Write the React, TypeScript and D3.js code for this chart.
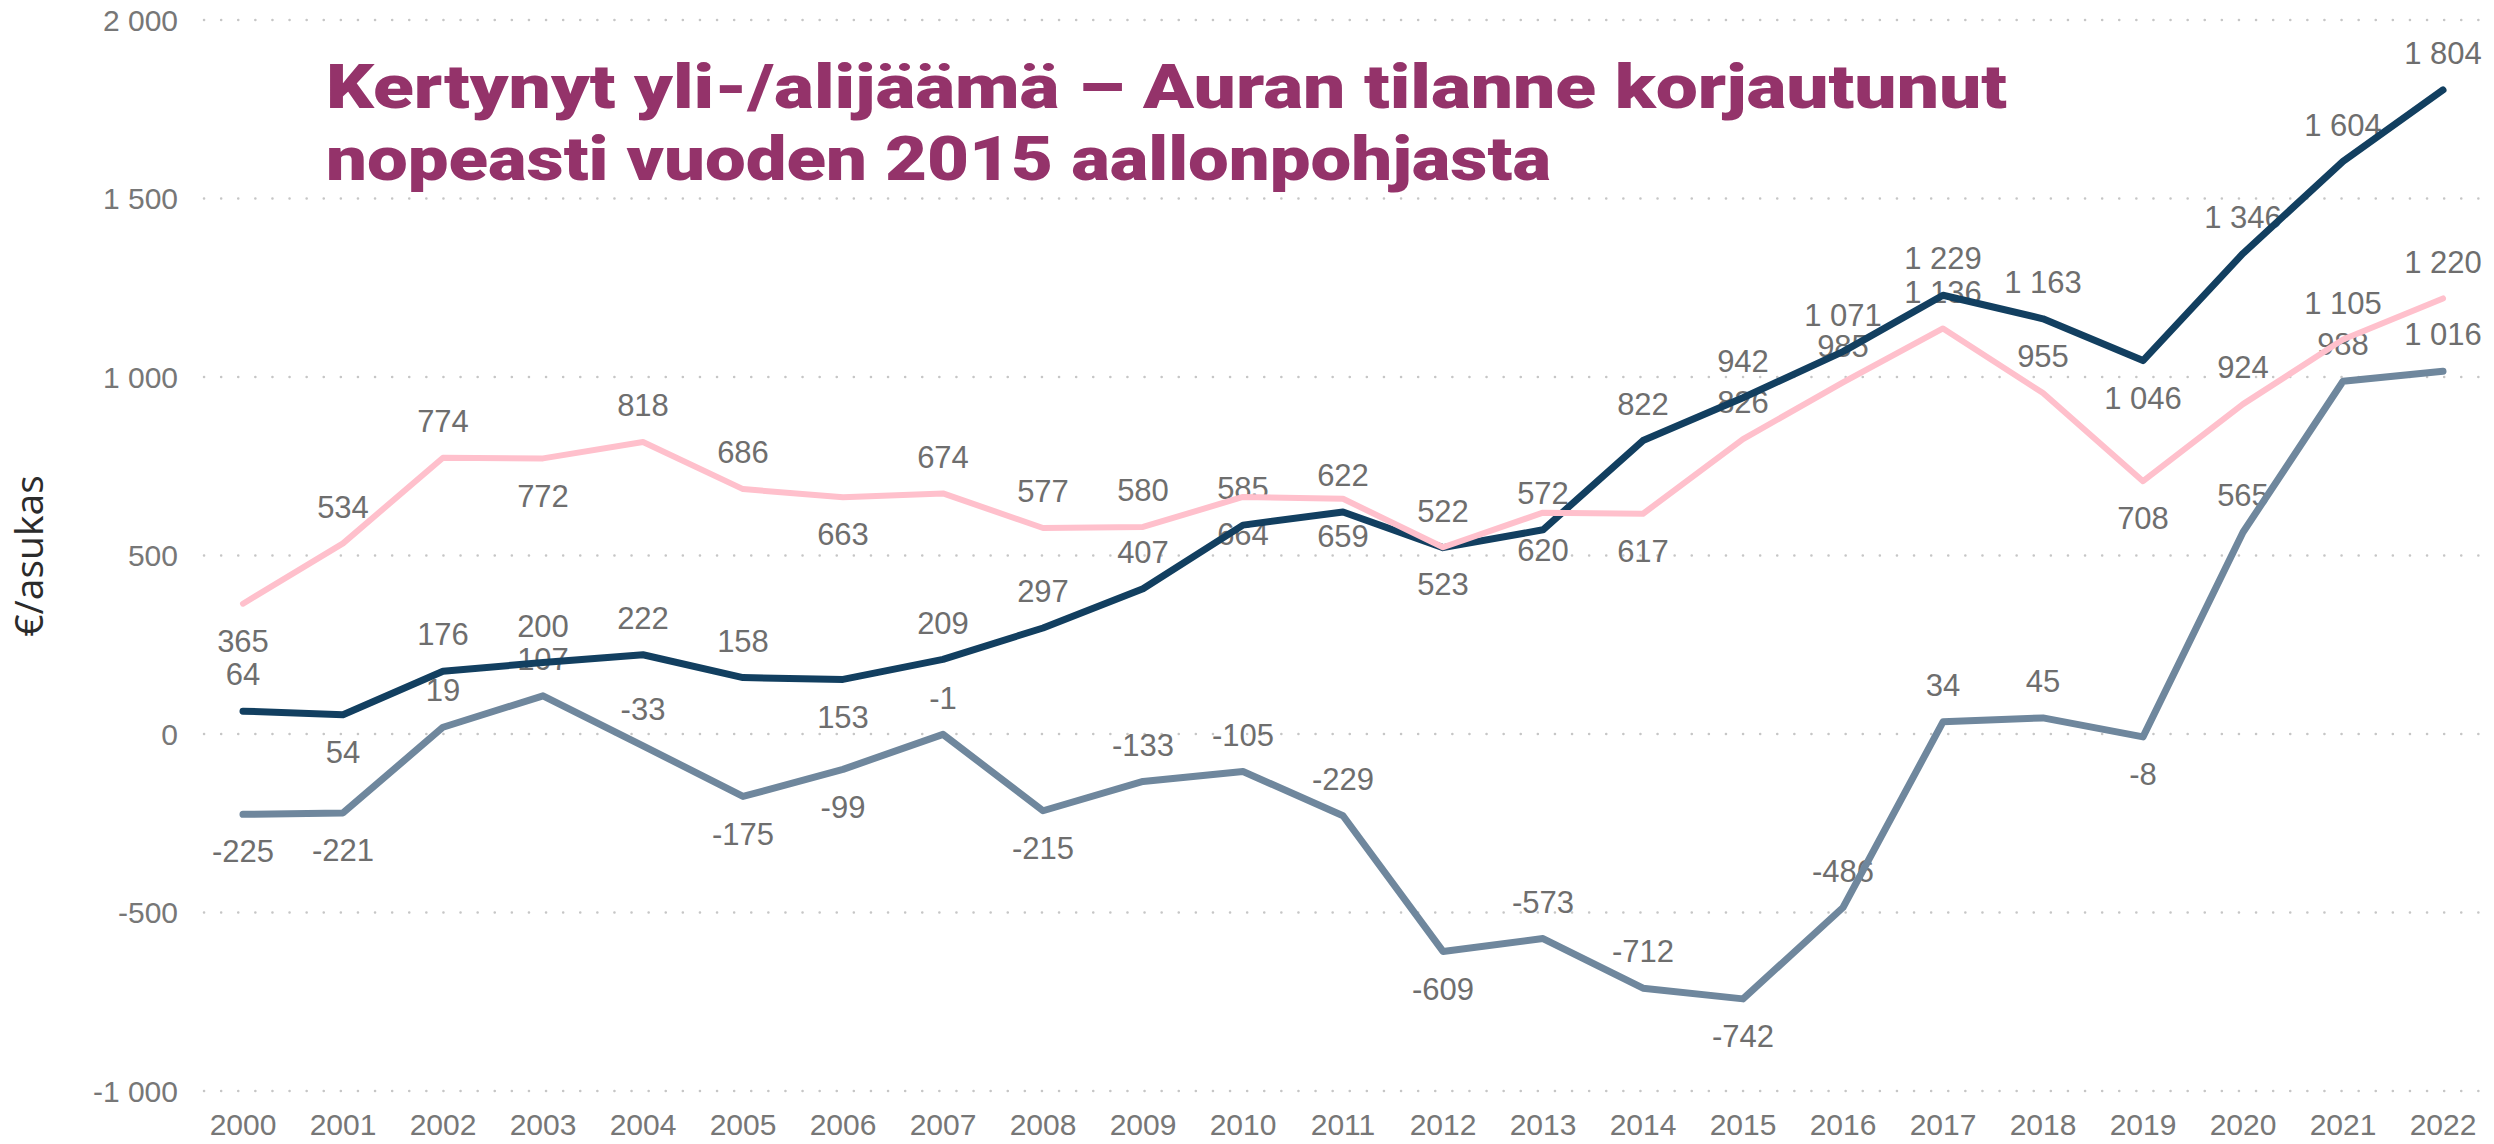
import { useEffect, useRef } from 'react';
import * as d3 from 'd3';

const years = [
  2000, 2001, 2002, 2003, 2004, 2005, 2006, 2007, 2008, 2009, 2010, 2011,
  2012, 2013, 2014, 2015, 2016, 2017, 2018, 2019, 2020, 2021, 2022,
];

// €/asukas
const vertailuA = [
  64, 54, 176, 200, 222, 158, 153, 209, 297, 407, 585, 622,
  522, 572, 822, 942, 1071, 1229, 1163, 1046, 1346, 1604, 1804,
];
const vertailuB = [
  365, 534, 774, 772, 818, 686, 663, 674, 577, 580, 664, 659,
  523, 620, 617, 826, 985, 1136, 955, 708, 924, 1105, 1220,
];
const aura = [
  -225, -221, 19, 107, -33, -175, -99, -1, -215, -133, -105, -229,
  -609, -573, -712, -742, -486, 34, 45, -8, 565, 988, 1016,
];

// label side: a = above, b = below
const vertailuASide = 'abaaaabaaaaaaaaaaaabaaa'.split('');
const vertailuBSide = 'baabaabaaabbbbbaaaabaaa'.split('');
const auraSide = 'bbaaabbabaaabaabaaabaaa'.split('');

const yTicks = [-1000, -500, 0, 500, 1000, 1500, 2000];

const titleLines = [
  'Kertynyt yli-/alijäämä – Auran tilanne korjautunut',
  'nopeasti vuoden 2015 aallonpohjasta',
];

const W = 2494;
const H = 1144;

export default function App() {
  const svgRef = useRef<SVGSVGElement>(null);

  useEffect(() => {
    document.body.style.margin = '0';
    if (!svgRef.current) return;
    const svg = d3.select(svgRef.current);
    svg.selectAll('*').remove();

    const fi = d3.formatLocale({
      decimal: ',',
      thousands: ' ',
      grouping: [3],
      currency: ['', ' €'],
      minus: '-',
    });
    const fmt = fi.format(',d');

    const x = d3.scalePoint<number>().domain(years).range([243, 2443]);
    const y = d3.scaleLinear().domain([-1000, 2000]).range([1091, 20]);

    const numFont = '"Liberation Sans", Arial, sans-serif';

    // Grid
    const grid = svg.append('g');
    yTicks.forEach((t) => {
      grid.append('line')
        .attr('x1', 204)
        .attr('x2', W)
        .attr('y1', y(t))
        .attr('y2', y(t))
        .attr('stroke', '#c6c6c6')
        .attr('stroke-width', 2.5)
        .attr('stroke-linecap', 'round')
        .attr('stroke-dasharray', '0.1 17');
      grid.append('text')
        .attr('x', 178)
        .attr('y', y(t))
        .attr('dy', '0.36em')
        .attr('text-anchor', 'end')
        .attr('font-family', numFont)
        .attr('font-size', 30)
        .attr('fill', '#777')
        .text(fmt(t));
    });

    // X axis labels
    years.forEach((yr) => {
      svg.append('text')
        .attr('x', x(yr)!)
        .attr('y', 1135)
        .attr('text-anchor', 'middle')
        .attr('font-family', numFont)
        .attr('font-size', 30)
        .attr('fill', '#777')
        .text(yr);
    });

    // Y axis title
    svg.append('text')
      .attr('transform', `translate(43, 556) rotate(-90)`)
      .attr('text-anchor', 'middle')
      .attr('font-family', '"Open Sans", "Noto Sans", sans-serif')
      .attr('font-size', 39)
      .attr('font-weight', 500)
      .attr('fill', '#2b2b2b')
      .text('€/asukas');

    const series = [
      { values: vertailuA, side: vertailuASide, color: '#123f60', width: 7 },
      { values: aura, side: auraSide, color: '#6f879d', width: 7 },
      { values: vertailuB, side: vertailuBSide, color: '#ffc0cc', width: 6 },
    ];

    // Data labels (under lines)
    series.forEach((s) => {
      s.values.forEach((v, i) => {
        const off = s.side[i] === 'a' ? -37 : 37;
        svg.append('text')
          .attr('x', x(years[i])!)
          .attr('y', y(v) + off)
          .attr('dy', '0.36em')
          .attr('text-anchor', 'middle')
          .attr('font-family', numFont)
          .attr('font-size', 31)
          .attr('fill', '#6e6e6e')
          .text(fmt(v));
      });
    });

    const line = d3.line<number>()
      .x((_, i) => x(years[i])!)
      .y((d) => y(d));

    series.forEach((s) => {
      svg.append('path')
        .datum(s.values)
        .attr('fill', 'none')
        .attr('stroke', s.color)
        .attr('stroke-width', s.width)
        .attr('stroke-linejoin', 'round')
        .attr('stroke-linecap', 'round')
        .attr('d', line);
    });

    // Title - heavy, wide face, stretched to the reference widths
    const titleWidths = [1681, 1225];
    titleLines.forEach((t, i) => {
      svg.append('text')
        .attr('x', 326)
        .attr('y', 108 + i * 72)
        .attr('font-family', 'Roboto, Lato, sans-serif')
        .attr('font-weight', 900)
        .attr('font-size', 61)
        .attr('textLength', titleWidths[i])
        .attr('lengthAdjust', 'spacingAndGlyphs')
        .attr('fill', '#94336a')
        .text(t);
    });
  }, []);

  return <svg ref={svgRef} width={W} height={H} style={{ display: 'block' }} />;
}
